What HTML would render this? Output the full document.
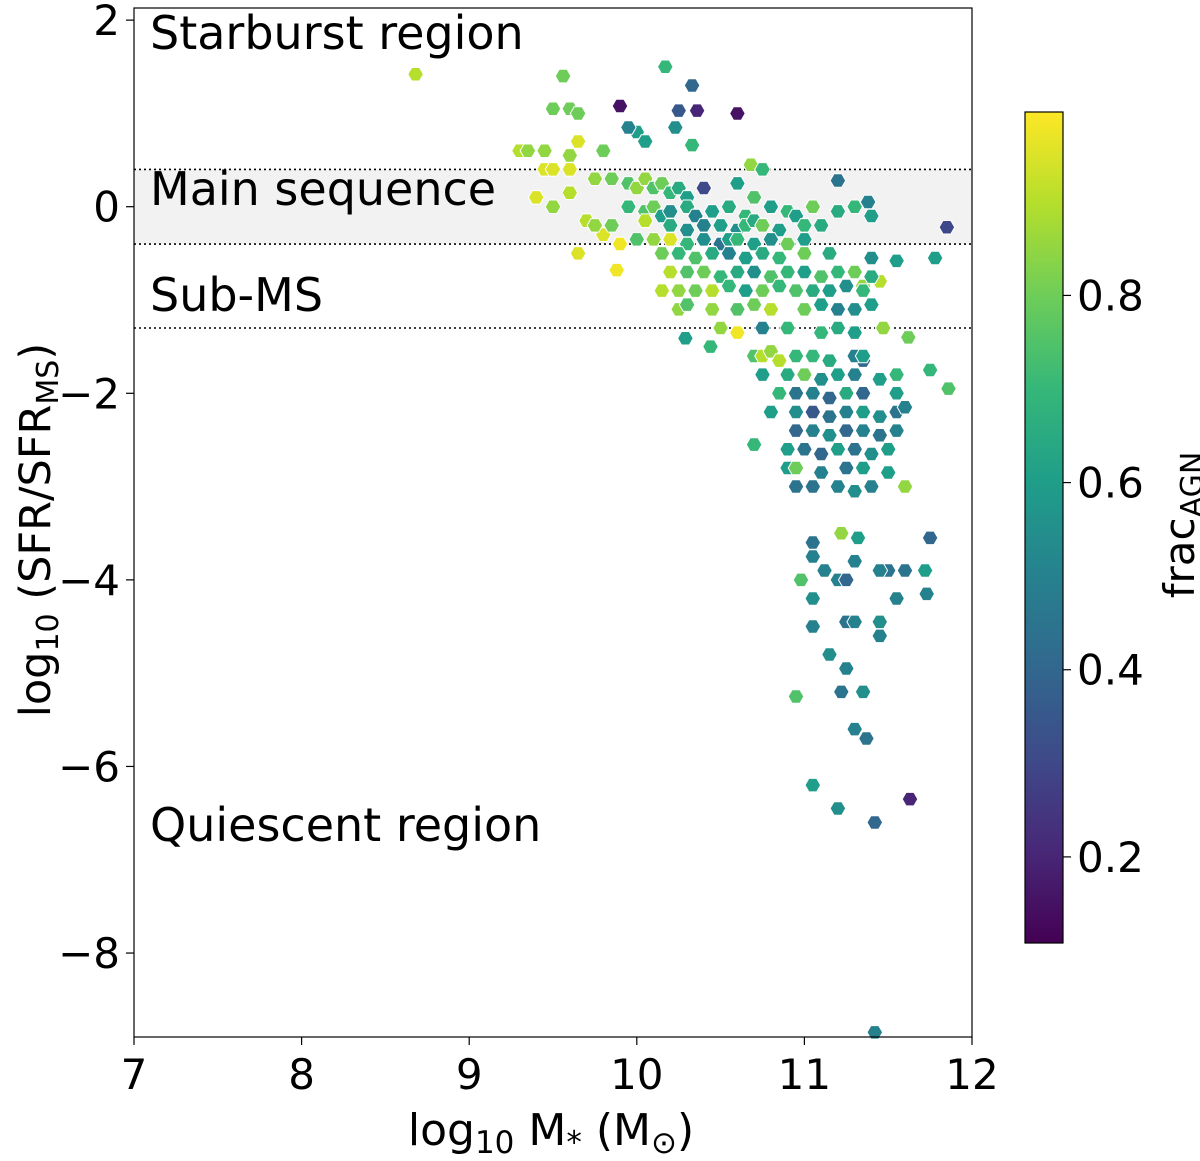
<!DOCTYPE html>
<html><head><meta charset="utf-8"><style>
body{margin:0;background:#fff;width:1200px;height:1156px;overflow:hidden}
svg text{font-family:"DejaVu Sans","Liberation Sans",sans-serif;fill:#000}
</style></head><body>
<svg id="chart" width="1200" height="1156" xmlns="http://www.w3.org/2000/svg">
<g id="plot"></g>
</svg>
<script>
const massX=[8.68,9.56,10.17,10.33,9.9,10.25,10.36,10.6,9.5,9.6,9.65,10.0,9.95,10.05,10.23,10.33,9.3,9.35,9.45,9.65,9.6,9.8,9.45,9.5,9.6,9.4,9.5,9.6,9.7,9.8,9.65,9.9,9.88,10.6,10.68,10.75,11.2,11.38,11.85,11.78,11.55,11.45,11.35,11.47,11.62,11.75,11.86,11.35,11.6,11.75,11.72,11.73,11.5,11.45,11.6,11.55,11.45,11.45,11.25,11.3,11.25,11.22,11.35,11.3,11.37,11.15,11.05,11.05,10.98,11.12,11.2,11.25,11.05,11.05,11.22,11.32,11.3,10.95,11.05,11.2,11.42,11.63,11.42,10.7,
9.75,9.85,9.95,10.0,10.05,10.1,10.15,10.2,10.25,10.3,10.4,10.6,10.7,
9.95,10.05,10.1,10.15,10.2,10.3,10.35,10.45,10.55,10.65,10.8,10.9,10.95,11.05,11.2,11.3,11.4,
9.75,9.85,10.05,10.2,10.3,10.4,10.5,10.6,10.65,10.7,10.75,10.85,11.0,11.1,
10.0,10.1,10.2,10.3,10.4,10.5,10.55,10.6,10.7,10.8,10.9,11.0,
10.15,10.25,10.35,10.45,10.55,10.65,10.75,10.85,11.0,11.15,11.4,
10.2,10.3,10.4,10.5,10.6,10.7,10.8,10.9,11.0,11.1,11.2,11.3,11.4,
10.15,10.25,10.35,10.45,10.55,10.65,10.75,10.85,10.95,11.05,11.15,11.25,11.35,
10.25,10.3,10.45,10.6,10.7,10.8,11.0,11.1,11.2,11.3,11.4,
10.5,10.75,10.9,11.1,11.2,11.3,10.29,10.44,
10.7,10.75,10.8,10.85,10.95,11.05,11.15,11.3,11.35,
10.75,10.9,11.0,11.1,11.2,11.3,11.45,11.55,
10.85,10.95,11.05,11.15,11.25,11.35,11.55,
10.8,10.95,11.05,11.15,11.25,11.35,11.45,11.55,11.6,
10.95,11.05,11.15,11.25,11.35,11.45,11.55,
10.9,11.0,11.1,11.2,11.3,11.4,11.5,
10.9,10.95,11.1,11.25,11.35,11.5,
10.95,11.05,11.2,11.3,11.4];
const sfrY=[1.42,1.4,1.5,1.3,1.08,1.03,1.03,1.0,1.05,1.05,1.0,0.8,0.85,0.7,0.85,0.66,0.6,0.6,0.6,0.7,0.55,0.6,0.4,0.4,0.4,0.1,0.0,0.15,-0.15,-0.3,-0.5,-0.4,-0.68,-1.35,0.45,0.4,0.28,0.05,-0.22,-0.55,-0.58,-0.8,-0.85,-1.3,-1.4,-1.75,-1.95,-1.65,-3.0,-3.55,-3.9,-4.15,-3.9,-3.9,-3.9,-4.2,-4.45,-4.6,-4.45,-4.45,-4.95,-5.2,-5.2,-5.6,-5.7,-4.8,-4.5,-4.2,-4.0,-3.9,-4.0,-4.0,-3.6,-3.75,-3.5,-3.55,-3.8,-5.25,-6.2,-6.45,-6.6,-6.35,-8.85,-2.55,
0.3,0.3,0.25,0.2,0.3,0.2,0.25,0.15,0.2,0.1,0.2,0.25,0.1,
0.0,-0.05,0.0,-0.1,-0.05,0.0,-0.1,-0.05,0.0,-0.1,0.0,-0.05,-0.1,0.0,-0.05,0.0,-0.1,
-0.2,-0.2,-0.15,-0.2,-0.25,-0.2,-0.2,-0.25,-0.2,-0.15,-0.2,-0.25,-0.2,-0.2,
-0.35,-0.35,-0.35,-0.4,-0.35,-0.4,-0.35,-0.35,-0.4,-0.35,-0.4,-0.35,
-0.5,-0.5,-0.55,-0.5,-0.5,-0.55,-0.5,-0.55,-0.5,-0.5,-0.55,
-0.7,-0.7,-0.7,-0.75,-0.7,-0.7,-0.75,-0.7,-0.7,-0.75,-0.7,-0.7,-0.75,
-0.9,-0.9,-0.9,-0.9,-0.85,-0.9,-0.9,-0.85,-0.9,-0.9,-0.9,-0.85,-0.9,
-1.1,-1.05,-1.1,-1.1,-1.05,-1.1,-1.1,-1.05,-1.1,-1.1,-1.05,
-1.3,-1.3,-1.3,-1.35,-1.3,-1.35,-1.41,-1.5,
-1.6,-1.6,-1.55,-1.65,-1.6,-1.6,-1.65,-1.6,-1.6,
-1.8,-1.8,-1.8,-1.85,-1.8,-1.8,-1.85,-1.8,
-2.0,-2.0,-2.0,-2.05,-2.0,-2.0,-2.0,
-2.2,-2.2,-2.2,-2.25,-2.2,-2.2,-2.25,-2.2,-2.15,
-2.4,-2.4,-2.45,-2.4,-2.4,-2.45,-2.4,
-2.6,-2.6,-2.65,-2.6,-2.6,-2.65,-2.6,
-2.8,-2.8,-2.85,-2.8,-2.8,-2.85,
-3.0,-3.0,-3.0,-3.05,-3.0];
const fracAGN=[0.9,0.8,0.7,0.4,0.15,0.35,0.2,0.15,0.8,0.8,0.8,0.6,0.5,0.6,0.55,0.7,0.9,0.85,0.85,0.95,0.85,0.8,0.95,0.95,0.95,0.95,0.85,0.9,0.9,0.95,0.95,0.98,0.98,0.98,0.85,0.7,0.45,0.5,0.3,0.6,0.6,0.9,0.85,0.85,0.8,0.7,0.75,0.4,0.85,0.4,0.6,0.5,0.45,0.5,0.45,0.5,0.55,0.5,0.45,0.5,0.5,0.45,0.55,0.5,0.45,0.55,0.5,0.55,0.75,0.5,0.5,0.4,0.45,0.5,0.85,0.6,0.5,0.75,0.6,0.55,0.4,0.2,0.5,0.7,
0.85,0.8,0.75,0.85,0.85,0.75,0.8,0.7,0.65,0.6,0.3,0.6,0.75,
0.7,0.75,0.8,0.6,0.55,0.65,0.5,0.6,0.65,0.7,0.6,0.7,0.6,0.8,0.65,0.7,0.6,
0.85,0.8,0.9,0.65,0.55,0.5,0.6,0.55,0.7,0.65,0.8,0.6,0.7,0.65,
0.75,0.85,0.95,0.7,0.55,0.45,0.6,0.7,0.6,0.55,0.8,0.6,
0.8,0.7,0.75,0.65,0.5,0.6,0.65,0.7,0.8,0.65,0.55,
0.9,0.75,0.8,0.7,0.65,0.55,0.75,0.7,0.6,0.75,0.7,0.8,0.65,
0.9,0.85,0.8,0.9,0.7,0.6,0.8,0.7,0.75,0.65,0.6,0.55,0.7,
0.85,0.75,0.85,0.75,0.8,0.9,0.8,0.6,0.5,0.55,0.6,
0.85,0.5,0.7,0.7,0.65,0.6,0.6,0.7,
0.75,0.9,0.85,0.9,0.7,0.7,0.65,0.5,0.6,
0.6,0.65,0.8,0.55,0.6,0.5,0.6,0.7,
0.7,0.45,0.5,0.4,0.65,0.4,0.6,
0.6,0.55,0.35,0.45,0.5,0.6,0.55,0.45,0.5,
0.4,0.5,0.55,0.4,0.5,0.45,0.5,
0.6,0.45,0.4,0.6,0.45,0.55,0.6,
0.6,0.8,0.5,0.45,0.6,0.6,
0.45,0.45,0.5,0.55,0.5];
const xTicks=[7,8,9,10,11,12];
const yTicks=[2,0,-2,-4,-6,-8];
const cTicks=[0.2,0.4,0.6,0.8];

const L=134,R=972,T=8,B=1037,X0=7,X1=12,Y0=-8.9,Y1=2.13;
const sx=v=>L+(v-X0)/(X1-X0)*(R-L);
const sy=v=>B-(v-Y0)/(Y1-Y0)*(B-T);
const CB={x:1025,w:38,t:112,b:943,lo:0.108,hi:0.996};
const cy=v=>CB.b-(v-CB.lo)/(CB.hi-CB.lo)*(CB.b-CB.t);
const vir=[[68,1,84],[72,40,120],[62,74,137],[49,104,142],[38,130,142],[31,158,137],[53,183,121],[109,205,89],[180,222,44],[253,231,37]];
function cmap(v){let t=(v-CB.lo)/(CB.hi-CB.lo);t=Math.max(0,Math.min(1,t))*(vir.length-1);const i=Math.min(Math.floor(t),vir.length-2),f=t-i;const a=vir[i],b=vir[i+1];return `rgb(${a.map((c,k)=>Math.round(c+(b[k]-c)*f)).join(',')})`;}
const NS='http://www.w3.org/2000/svg';
const g=document.getElementById('plot');
function mk(tag,attrs,parent){const e=document.createElementNS(NS,tag);for(const k in attrs)e.setAttribute(k,attrs[k]);(parent||g).appendChild(e);return e;}

let e=mk('rect',{x:L,y:sy(0.4),width:R-L,height:sy(-0.4)-sy(0.4),fill:'#f2f2f2'});


[0.4,-0.4,-1.3].forEach(v=>{const l=mk('line',{x1:L,x2:R,y1:sy(v),y2:sy(v),stroke:'#000','stroke-width':1.6,'stroke-dasharray':'2,3'});

});

const labels=[['Starburst region',49],['Main sequence',205],['Sub-MS',311],['Quiescent region',841]];
labels.forEach(([t,y])=>{const tx=mk('text',{x:150,y:y,'font-size':46});tx.textContent=t;

});

for(let i=0;i<massX.length;i++){
  const cx=sx(massX[i]),cyy=sy(sfrY[i]),r=7.8;
  let pts=[];for(let k=0;k<6;k++){const a=Math.PI/3*k;pts.push((cx+r*Math.cos(a)).toFixed(1)+','+(cyy+r*Math.sin(a)).toFixed(1));}
  const p=mk('polygon',{points:pts.join(' '),fill:cmap(fracAGN[i]),stroke:'#fff','stroke-width':1});
  
  
}

e=mk('rect',{x:L,y:T,width:R-L,height:B-T,fill:'none',stroke:'#000','stroke-width':1.2});



xTicks.forEach(v=>{mk('line',{x1:sx(v),x2:sx(v),y1:B,y2:B+8,stroke:'#000','stroke-width':1.2});
const t=mk('text',{x:sx(v),y:B+52,'font-size':42,'text-anchor':'middle'});t.textContent=v;

});
yTicks.forEach(v=>{mk('line',{x1:L-8,x2:L,y1:sy(v),y2:sy(v),stroke:'#000','stroke-width':1.2});
const t=mk('text',{x:L-14,y:sy(v)+15,'font-size':42,'text-anchor':'end'});t.textContent=v<0?'\u2212'+(-v):v;

});

const defs=mk('defs',{});const lg=mk('linearGradient',{id:'vg',x1:0,y1:1,x2:0,y2:0},defs);
vir.forEach((c,i)=>mk('stop',{offset:i/(vir.length-1),'stop-color':`rgb(${c.join(',')})`},lg));
e=mk('rect',{x:CB.x,y:CB.t,width:CB.w,height:CB.b-CB.t,fill:'url(#vg)',stroke:'#000','stroke-width':1.2});


cTicks.forEach(v=>{mk('line',{x1:CB.x+CB.w,x2:CB.x+CB.w+8,y1:cy(v),y2:cy(v),stroke:'#000','stroke-width':1.2});
const t=mk('text',{x:CB.x+CB.w+14,y:cy(v)+15,'font-size':42});t.textContent=v.toFixed(1);

});
</script>
<svg style="position:absolute;left:0;top:0" width="1200" height="1156">
<text x="551" y="1145" font-size="44" text-anchor="middle">log<tspan font-size="31" dy="8">10</tspan><tspan dy="-8"> M</tspan><tspan font-size="31" dy="8">*</tspan><tspan dy="-8"> (M</tspan><tspan font-size="31" dy="8">⊙</tspan><tspan dy="-8">)</tspan></text>
<text transform="translate(50,530) rotate(-90)" font-size="43" text-anchor="middle">log<tspan font-size="30" dy="8">10</tspan><tspan dy="-8"> (SFR/SFR</tspan><tspan font-size="30" dy="8">MS</tspan><tspan dy="-8">)</tspan></text>
<text transform="translate(1194,525) rotate(-90)" font-size="42" text-anchor="middle">frac<tspan font-size="30" dy="8">AGN</tspan></text>
</svg>
</body></html>
